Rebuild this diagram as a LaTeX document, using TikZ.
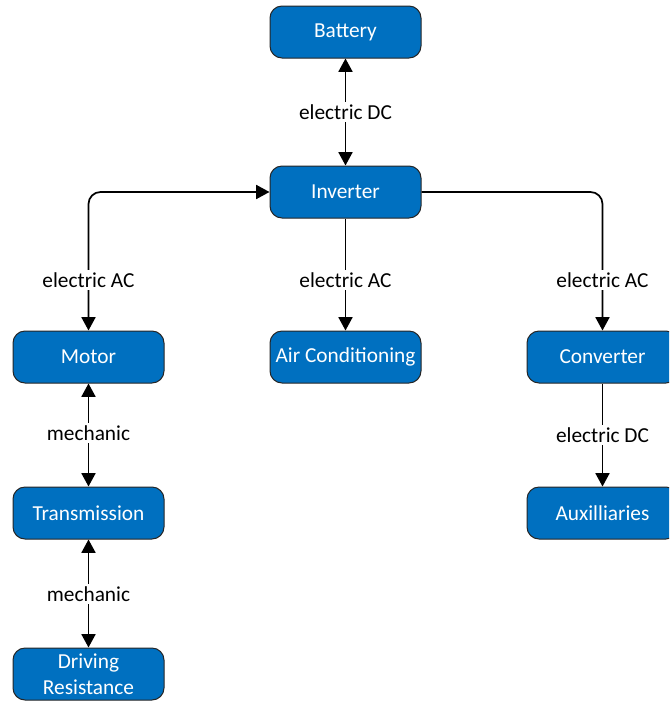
\documentclass[tikz,border=0pt]{standalone}
\usepackage{fontspec}
\setmainfont{Carlito}
\usetikzlibrary{arrows.meta}
\definecolor{boxblue}{HTML}{0070C0}
\begin{document}
\begin{tikzpicture}[x=0.75pt,y=-0.75pt,
  block/.style={draw=black!85, line width=0.75pt, fill=boxblue, rounded corners=9pt,
    minimum width=113.25pt, minimum height=39pt, text=white, inner sep=1pt,
    align=center, font=\fontsize{16}{19.5}\selectfont},
  conn/.style={line width=1.3pt, -{Triangle[width=10.5pt,length=10pt]}},
  bconn/.style={line width=1.3pt, {Triangle[width=10.5pt,length=10pt]}-{Triangle[width=10.5pt,length=10pt]}},
  lbl/.style={fill=white, inner sep=2pt, font=\fontsize{16}{19}\selectfont}]
\useasboundingbox (0,0) rectangle (669,704);
\clip (0,0) rectangle (669,704);
\node[block] (bat) at (345.5,32) {Battery};
\node[block] (inv) at (345.5,192) {Inverter};
\node[block] (mot) at (88.5,357) {Motor};
\node[block] (ac) at (345.5,357) {Air Conditioning};
\node[block] (conv) at (602.5,357) {Converter};
\node[block] (tra) at (88.5,513) {Transmission};
\node[block] (aux) at (602.5,513) {Auxilliaries};
\node[block] (drv) at (88.5,674) {Driving\\Resistance};

\draw[bconn] (bat) -- (inv);
\draw[bconn, rounded corners=9pt] (mot.north) |- (inv.west);
\draw[conn] (inv) -- (ac);
\draw[conn, rounded corners=9pt] (inv.east) -| (conv.north);
\draw[bconn] (mot) -- (tra);
\draw[bconn] (tra) -- (drv);
\draw[conn] (conv) -- (aux);

\node[lbl] (l1) at (345.5,112) {electric DC};
\node[lbl] (l2) at (88.5,280) {electric AC};
\node[lbl] (l3) at (345.5,280) {electric AC};
\node[lbl] (l4) at (602.5,280) {electric AC};
\node[lbl] (l5) at (88.5,433) {mechanic};
\node[lbl] (l6) at (88.5,594) {mechanic};
\node[lbl] (l7) at (602.5,435) {electric DC};
\end{tikzpicture}
\end{document}
